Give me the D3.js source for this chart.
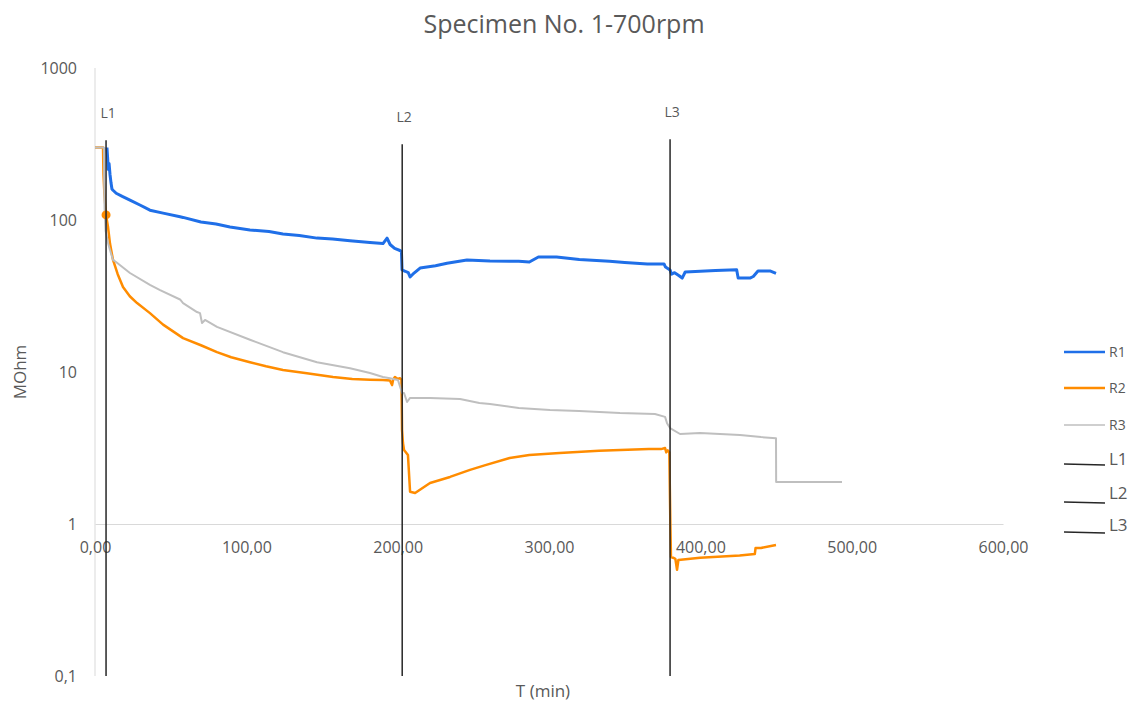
<!DOCTYPE html>
<html>
<head>
<meta charset="utf-8">
<script src="https://cdn.jsdelivr.net/npm/d3@7"></script>
<style>
  html, body { margin: 0; padding: 0; background: #fff; }
  svg { display: block; font-family: "Open Sans", "Noto Sans", sans-serif; }
</style>
</head>
<body>
<svg id="chart" width="1137" height="702"></svg>
<script>
// ---------------- DATA ----------------
const chartTitle = "Specimen No. 1-700rpm";
const xTitle = "T (min)";
const yTitle = "MOhm";
const xTicks = [0, 100, 200, 300, 400, 500, 600];
const yTicks = [0.1, 1, 10, 100, 1000];

// R1 [time (min), MOhm]
const r1 = [
  [7.9, 300], [8.3, 260], [8.8, 215], [9.3, 235], [9.9, 200], [10.6, 175], [11.2, 160],
  [11.9, 157], [14, 150], [18, 143], [23.1, 135], [30, 125], [36.3, 116], [45, 111],
  [56.2, 105], [58.2, 104], [70, 97], [80, 94], [89.2, 90], [102.4, 86], [115, 84],
  [124.2, 81], [135, 79], [146.7, 76], [157, 75], [168.5, 73], [181.7, 71], [190.3, 70],
  [193, 76], [195, 69], [198, 65], [201.5, 63], [202.5, 62], [202.9, 47], [205, 46],
  [207, 45], [208.2, 42.2], [210, 44], [214.8, 48.3], [225, 50], [232.6, 52], [245.8, 54.6],
  [261, 53.7], [280, 53.5], [287, 52.9], [293, 57.1], [305, 57.1], [320, 55], [340, 53.5],
  [350, 52.5], [365, 51.4], [376, 51.4], [377, 49], [380, 46.9], [381, 44], [383, 45],
  [386, 43], [388, 41.5], [390, 45.5], [400, 46], [410, 46.5], [424, 47], [425, 41.5],
  [432.8, 41.5], [435, 42.5], [438.1, 46.2], [446, 46.2], [450, 44.5]
];
// R2
const r2 = [
  [0, 300], [5.3, 300], [5.6, 200], [6.2, 150], [7.3, 108], [8.6, 90], [9.9, 70],
  [11.9, 54.6], [15, 44], [18.5, 36.2], [23, 31.5], [27.8, 28.4], [36.3, 24.4], [45, 20.5],
  [58.2, 16.7], [70, 15], [80.6, 13.5], [90, 12.5], [102.4, 11.6], [113, 10.9], [124.2, 10.3],
  [140, 9.8], [157.3, 9.27], [170, 9.0], [181.7, 8.9], [190.3, 8.86], [194.9, 8.8], [196.3, 8.2],
  [197, 8.9], [198.2, 9.27], [200, 9.0], [201.5, 9.1], [202.5, 8.9], [202.9, 4.15], [203.5, 3.41],
  [204.2, 3.07], [206.8, 2.84], [208.2, 1.63], [211.5, 1.6], [221.4, 1.86], [234.6, 2.04],
  [247.8, 2.27], [258, 2.44], [274, 2.72], [287, 2.84], [307, 2.93], [333, 3.03], [366, 3.11],
  [374, 3.11], [376.7, 3.16], [377.5, 2.96], [378.5, 3.05], [379.5, 2.96], [380.2, 1.0],
  [380.6, 0.607], [382, 0.60], [383.5, 0.59], [384.6, 0.50], [385.5, 0.58], [399.8, 0.6],
  [426, 0.62], [436, 0.635], [436.5, 0.695], [440, 0.695], [450, 0.728]
];
// R3
const r3 = [
  [0, 300], [5.9, 300], [6.0, 200], [6.3, 120], [7.0, 85], [8.6, 70.6], [9.9, 63.5],
  [11.9, 54.6], [13.9, 52.9], [23.1, 44.8], [36.3, 37.4], [43, 34.6], [56.2, 30], [58.2, 28.4],
  [67.4, 24.8], [69.4, 24.4], [70.7, 21.0], [72.7, 22.0], [80.6, 19.8], [102.4, 16.3],
  [124.2, 13.5], [146.7, 11.6], [168.5, 10.6], [181.7, 9.85], [190.3, 9.27], [194.9, 9.1],
  [200.2, 8.86], [202.9, 7.28], [204.2, 7.28], [206.2, 6.35], [208.2, 6.75], [221.4, 6.75],
  [241.2, 6.65], [254, 6.25], [261, 6.15], [280, 5.8], [300.7, 5.62], [320, 5.54],
  [346.9, 5.37], [370, 5.29], [376.7, 5.07], [378, 4.6], [380, 4.28], [386.6, 3.91],
  [399.8, 3.97], [426.2, 3.85], [440.1, 3.73], [450, 3.67], [450.1, 1.89], [493.6, 1.89]
];
// R2 highlighted point (marker)
const r2Marker = [7.3, 108];
// Load step lines L1..L3: [time, top value, bottom value]
const lNames = ["L1", "L2", "L3"];
const lTimes = [7.3, 203, 380];
const lTops = [335, 315, 340];
const lBottom = 0.1;

const seriesNames = ["R1", "R2", "R3"];
const seriesColors = ["#1f6fe8", "#ff8c00", "#bfbfbf"];
const seriesWidths = [3, 2.5, 2];

// ---------------- CHART ----------------
const svg = d3.select("#chart");
const textColor = "#595959";

const x = d3.scaleLinear().domain([0, 600]).range([95, 1003]);
const y = d3.scaleLog().domain([0.1, 1000]).range([676, 68]);

// Title
svg.append("text")
  .attr("x", 564).attr("y", 33)
  .attr("text-anchor", "middle")
  .attr("font-size", 25)
  .attr("fill", textColor)
  .text(chartTitle);

// Vertical axis line
svg.append("line")
  .attr("x1", x(0)).attr("x2", x(0))
  .attr("y1", y(1000)).attr("y2", y(0.1))
  .attr("stroke", "#d9d9d9").attr("stroke-width", 1);

// Horizontal axis (crosses at 1)
const xAxis = d3.axisBottom(x)
  .tickValues(xTicks)
  .tickSize(0)
  .tickPadding(18)
  .tickFormat(d => d3.format(".2f")(d).replace(".", ","));
const gx = svg.append("g")
  .attr("transform", `translate(0,${y(1)})`)
  .call(xAxis);
gx.select(".domain").attr("stroke", "#d9d9d9");
gx.selectAll("text").attr("fill", textColor).attr("font-size", 16)
  .attr("font-family", "'Open Sans', sans-serif");

// Y axis labels
const yAxis = d3.axisLeft(y)
  .tickValues(yTicks)
  .tickSize(0)
  .tickPadding(18)
  .tickFormat(d => String(d).replace(".", ","));
const gy = svg.append("g")
  .attr("transform", `translate(${x(0)},0)`)
  .call(yAxis);
gy.select(".domain").remove();
gy.selectAll("text").attr("fill", textColor).attr("font-size", 16)
  .attr("font-family", "'Open Sans', sans-serif");

// Axis titles
svg.append("text")
  .attr("x", 543).attr("y", 697)
  .attr("text-anchor", "middle")
  .attr("font-size", 17)
  .attr("fill", textColor)
  .text(xTitle);
svg.append("text")
  .attr("transform", "translate(26,372) rotate(-90)")
  .attr("text-anchor", "middle")
  .attr("font-size", 17)
  .attr("fill", textColor)
  .text(yTitle);

const line = d3.line().x(d => x(d[0])).y(d => y(d[1]));

const allSeries = [r1, r2, r3];
allSeries.forEach((s, i) => {
  svg.append("path")
    .datum(s)
    .attr("fill", "none")
    .attr("stroke", seriesColors[i])
    .attr("stroke-width", seriesWidths[i])
    .attr("stroke-linejoin", "round")
    .attr("d", line);
});

// R2 marker
svg.append("circle")
  .attr("cx", x(r2Marker[0])).attr("cy", y(r2Marker[1]))
  .attr("r", 4.5)
  .attr("fill", seriesColors[1]);

// L lines
lTimes.forEach((t, i) => {
  svg.append("path")
    .datum([[t, lTops[i]], [t, lBottom]])
    .attr("fill", "none")
    .attr("stroke", "#262626")
    .attr("stroke-width", 1.5)
    .attr("d", line);
  svg.append("text")
    .attr("x", x(t) + 2)
    .attr("y", y(lTops[i]) - 22)
    .attr("text-anchor", "middle")
    .attr("font-size", 14)
    .attr("fill", textColor)
    .text(lNames[i]);
});

// Legend
const legendRows = [
  { name: "R1", color: seriesColors[0], w: 2.5, ly: 352, ty: 352, fs: 14 },
  { name: "R2", color: seriesColors[1], w: 2.5, ly: 388, ty: 388, fs: 14 },
  { name: "R3", color: seriesColors[2], w: 1.5, ly: 425, ty: 425, fs: 14 },
  { name: "L1", color: "#262626", w: 1.5, ly: 464, ty: 459, fs: 17 },
  { name: "L2", color: "#262626", w: 1.5, ly: 502, ty: 493, fs: 17 },
  { name: "L3", color: "#262626", w: 1.5, ly: 532, ty: 525, fs: 17 }
];
legendRows.forEach(r => {
  svg.append("line")
    .attr("x1", 1064).attr("x2", 1105)
    .attr("y1", r.ly).attr("y2", r.ly + (r.name[0] === "L" ? 1 : 0))
    .attr("stroke", r.color).attr("stroke-width", r.w);
  svg.append("text")
    .attr("x", 1109).attr("y", r.ty)
    .attr("dy", "0.35em")
    .attr("font-size", r.fs)
    .attr("fill", textColor)
    .text(r.name);
});
</script>
</body>
</html>
